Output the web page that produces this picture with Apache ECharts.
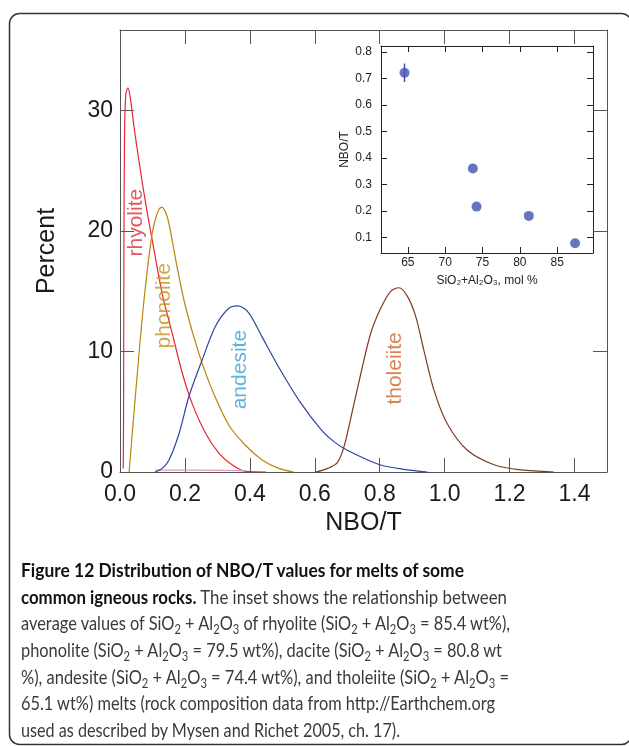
<!DOCTYPE html>
<html>
<head>
<meta charset="utf-8">
<script src="https://cdn.jsdelivr.net/npm/echarts@6/dist/echarts.min.js"></script>
<style>
html, body { margin: 0; padding: 0; background: #fff; }
#chart { width: 629px; height: 746px; }
.caption {
  position: absolute; left: 21px; top: 557px;
  font-family: Lato, 'Open Sans', sans-serif; font-size: 19px; line-height: 26.7px;
  color: #3a3a3a;
}
.caption .ln { white-space: nowrap; height: 26.7px; }
.caption .ln span.fit { display: inline-block; transform-origin: 0 50%; }
.caption b { color: #111; }
.caption sub { font-size: 0.68em; vertical-align: -0.3em; line-height: 0; }
</style>
</head>
<body>
<div id="chart"></div>
<div class="caption">
  <div class="ln"><span class="fit"><b>Figure 12 Distribution of NBO/T values for melts of some</b></span></div>
  <div class="ln"><span class="fit"><b>common igneous rocks.</b> The inset shows the relationship between</span></div>
  <div class="ln"><span class="fit">average values of SiO<sub>2</sub> + Al<sub>2</sub>O<sub>3</sub> of rhyolite (SiO<sub>2</sub> + Al<sub>2</sub>O<sub>3</sub> = 85.4 wt%),</span></div>
  <div class="ln"><span class="fit">phonolite (SiO<sub>2</sub> + Al<sub>2</sub>O<sub>3</sub> = 79.5 wt%), dacite (SiO<sub>2</sub> + Al<sub>2</sub>O<sub>3</sub> = 80.8 wt</span></div>
  <div class="ln"><span class="fit">%), andesite (SiO<sub>2</sub> + Al<sub>2</sub>O<sub>3</sub> = 74.4 wt%), and tholeiite (SiO<sub>2</sub> + Al<sub>2</sub>O<sub>3</sub> =</span></div>
  <div class="ln"><span class="fit">65.1 wt%) melts (rock composition data from http://Earthchem.org</span></div>
  <div class="ln"><span class="fit">used as described by Mysen and Richet 2005, ch. 17).</span></div>
</div>
<script>
// NBO/T 分布曲线 [NBO/T, Percent]
const rhyolite = [[0.010, 0.3], [0.011, 5], [0.012, 18], [0.014, 28], [0.018, 31.4], [0.0246, 31.9], [0.032, 31.0], [0.043, 28.7], [0.058, 25.9], [0.079, 22.3], [0.099, 19.3], [0.130, 14.8], [0.161, 11.5], [0.192, 8.2], [0.222, 5.7], [0.264, 3.2], [0.305, 1.55], [0.346, 0.58], [0.387, 0.05], [0.45, 0]]
const phonolite = [[0.028, 0], [0.048, 6.5], [0.074, 14.3], [0.099, 19.8], [0.115, 21.5], [0.128, 22.0], [0.14, 21.6], [0.151, 20.6], [0.176, 17.0], [0.202, 13.7], [0.243, 9.85], [0.284, 6.8], [0.335, 3.9], [0.387, 2.2], [0.438, 1.0], [0.489, 0.3], [0.535, 0]]
const dacite = [[0.108, 0.15], [0.25, 0.15], [0.387, 0.1]]
const andesite = [[0.108, 0], [0.13, 0.3], [0.151, 1.0], [0.182, 3.2], [0.212, 6.25], [0.253, 9.3], [0.294, 12.1], [0.335, 13.6], [0.364, 13.8], [0.397, 13.2], [0.438, 11.2], [0.489, 8.7], [0.555, 5.8], [0.62, 3.5], [0.66, 2.5], [0.70, 1.8], [0.80, 0.6], [0.88, 0.2], [0.947, 0]]
const tholeiite = [[0.603, 0], [0.64, 0.3], [0.67, 0.8], [0.69, 2.1], [0.716, 5.1], [0.742, 8.2], [0.772, 11.5], [0.803, 13.6], [0.834, 15.0], [0.859, 15.3], [0.885, 14.6], [0.911, 12.9], [0.936, 10.1], [0.967, 6.8], [1.008, 4.0], [1.07, 1.8], [1.152, 0.6], [1.234, 0.17], [1.336, 0]]

// 曲线标注位置 (数据坐标)
const curveLabels = [
  { name: 'rhyolite', at: [0.049, 20.7] },
  { name: 'phonolite', at: [0.135, 13.8] },
  { name: 'andesite', at: [0.369, 8.5] },
  { name: 'tholeiite', at: [0.849, 8.6] }
]

// 插图: SiO2+Al2O3 vs NBO/T
const insetSi = [64.55, 73.7, 74.2, 81.2, 87.4]
const insetNbo = [0.722, 0.361, 0.217, 0.182, 0.079]
const insetErr = [0.035, 0, 0, 0, 0]

// 刻度
const mainXTicks = [0, 0.2, 0.4, 0.6, 0.8, 1.0, 1.2, 1.4]
const mainYTicks = [0, 10, 20, 30]
const insetXTicks = [65, 70, 75, 80, 85]
const insetYTicks = [0.1, 0.2, 0.3, 0.4, 0.5, 0.6, 0.7, 0.8]

const font = "'Liberation Sans', Arial, sans-serif"
const axisGray = '#555'
const inkDark = '#1a1a1a'

const myChart = echarts.init(document.getElementById('chart'))

// 主图坐标轴
const mainAxis = (pos, ticks, extra) => Object.assign({
  type: 'value',
  gridIndex: 0,
  position: pos,
  axisLine: { show: true, onZero: false, lineStyle: { color: axisGray, width: 1 } },
  axisTick: { show: true, inside: true, length: 14, customValues: ticks, lineStyle: { color: axisGray, width: 1 } },
  axisLabel: { show: false },
  splitLine: { show: false }
}, extra)

// 插图坐标轴
const insetAxis = (pos, ticks, extra) => Object.assign({
  type: 'value',
  gridIndex: 1,
  position: pos,
  axisLine: { show: true, onZero: false, lineStyle: { color: '#222', width: 1 } },
  axisTick: { show: true, inside: true, length: 6, customValues: ticks, lineStyle: { color: '#222', width: 1 } },
  axisLabel: { show: false },
  splitLine: { show: false }
}, extra)

const line = (name, data, color) => ({
  name: name,
  type: 'line',
  xAxisIndex: 0,
  yAxisIndex: 0,
  data: data,
  smooth: 0.3,
  showSymbol: false,
  lineStyle: { color: color, width: 1.2 },
  itemStyle: { color: color },
  z: 3
})

const labelColors = { rhyolite: '#db2f3c', phonolite: '#c58f1c', andesite: '#3a9fd6', tholeiite: '#d0602a' }

const options = {
  animation: false,
  backgroundColor: '#fff',
  grid: [
    { left: 120, top: 30, width: 487, height: 442 },
    { left: 381, top: 46, width: 212, height: 207 }
  ],
  graphic: [{
    type: 'rect',
    shape: { x: 9.5, y: 13.5, width: 622, height: 731, r: 10 },
    style: { fill: 'none', stroke: '#333', lineWidth: 1.5 },
    silent: true
  }],
  xAxis: [
    mainAxis('bottom', mainXTicks, {
      min: 0,
      max: 1.5,
      axisLabel: { show: true, customValues: mainXTicks, formatter: (v) => v.toFixed(1), fontSize: 23, color: inkDark, fontFamily: font, margin: 11 },
      name: 'NBO/T',
      nameLocation: 'middle',
      nameGap: 38,
      nameTextStyle: { fontSize: 25, color: inkDark, fontFamily: font }
    }),
    mainAxis('top', mainXTicks, { min: 0, max: 1.5 }),
    insetAxis('bottom', insetXTicks, {
      min: 61.4,
      max: 89.8,
      axisLabel: { show: true, customValues: insetXTicks, fontSize: 12, color: '#222', fontFamily: font, margin: 4 },
      name: 'SiO₂+Al₂O₃, mol %',
      nameLocation: 'middle',
      nameGap: 22,
      nameTextStyle: { fontSize: 12, color: '#222', fontFamily: font }
    }),
    insetAxis('top', insetXTicks, { min: 61.4, max: 89.8 })
  ],
  yAxis: [
    mainAxis('left', mainYTicks, {
      min: 0,
      max: 36.7,
      axisLabel: { show: true, customValues: mainYTicks, fontSize: 23, color: inkDark, fontFamily: font, margin: 7 },
      name: 'Percent',
      nameLocation: 'middle',
      nameGap: 60,
      nameTextStyle: { fontSize: 25, color: inkDark, fontFamily: font }
    }),
    mainAxis('right', mainYTicks, { min: 0, max: 36.7 }),
    insetAxis('left', insetYTicks, {
      min: 0.042,
      max: 0.823,
      axisLabel: { show: true, customValues: insetYTicks, formatter: (v) => v.toFixed(1), fontSize: 12, color: '#222', fontFamily: font, margin: 9 },
      name: 'NBO/T',
      nameLocation: 'middle',
      nameGap: 30,
      nameTextStyle: { fontSize: 12, color: '#222', fontFamily: font }
    }),
    insetAxis('right', insetYTicks, { min: 0.042, max: 0.823 })
  ],
  series: [
    line('rhyolite', rhyolite, '#e8252f'),
    line('dacite', dacite, '#e49ac6'),
    line('phonolite', phonolite, '#b8860b'),
    line('andesite', andesite, '#2c469e'),
    line('tholeiite', tholeiite, '#7e3a1f'),
    // 曲线名称
    {
      type: 'scatter',
      xAxisIndex: 0,
      yAxisIndex: 0,
      symbolSize: 0,
      silent: true,
      data: curveLabels.map((d) => ({ value: d.at, name: d.name, label: { color: labelColors[d.name] } })),
      label: {
        show: true,
        position: 'inside',
        rotate: 90,
        fontSize: 21,
        fontFamily: font,
        formatter: (p) => p.name
      },
      itemStyle: { color: 'transparent' },
      z: 4
    },
    // 误差棒
    {
      type: 'custom',
      xAxisIndex: 2,
      yAxisIndex: 2,
      data: insetSi.map((x, i) => [x, insetNbo[i] - insetErr[i], insetNbo[i] + insetErr[i]]),
      renderItem: (params, api) => {
        const lo = api.coord([api.value(0), api.value(1)])
        const hi = api.coord([api.value(0), api.value(2)])
        return { type: 'line', shape: { x1: lo[0], y1: lo[1], x2: hi[0], y2: hi[1] }, style: { stroke: '#4152b0', lineWidth: 1.5 } }
      },
      silent: true,
      z: 3
    },
    {
      type: 'scatter',
      xAxisIndex: 2,
      yAxisIndex: 2,
      symbolSize: 10,
      itemStyle: { color: '#4152b0' },
      data: insetSi.map((x, i) => [x, insetNbo[i]]),
      z: 4
    }
  ]
}
myChart.setOption(options)

// 图注每行按原图宽度压缩
const lineWidths = [443, 486, 489, 481, 488, 474, 379]
document.querySelectorAll('.caption .fit').forEach((el, i) => {
  const w = el.getBoundingClientRect().width
  el.style.transform = 'scaleX(' + (lineWidths[i] / w) + ')'
})
</script>
</body>
</html>
